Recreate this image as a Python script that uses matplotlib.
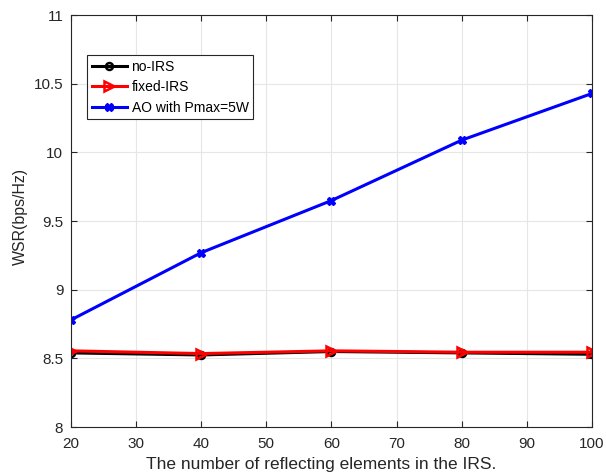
import matplotlib
matplotlib.use("Agg")
import matplotlib.pyplot as plt

plt.rcParams["font.family"] = ["Liberation Sans", "DejaVu Sans"]

# data
n_elements = [20, 40, 60, 80, 100]
wsr_no_irs = [8.540, 8.525, 8.550, 8.540, 8.530]
wsr_fixed_irs = [8.555, 8.535, 8.555, 8.545, 8.545]
wsr_ao = [8.78, 9.27, 9.65, 10.09, 10.43]

text_col = "#262626"

fig = plt.figure(figsize=(6.06, 4.75), dpi=100)
ax = fig.add_axes([0.117, 0.101, 0.860, 0.867])

ax.plot(n_elements, wsr_no_irs, color="black", lw=2.2, marker="o", ms=5,
        mfc="none", mew=1.8, label="no-IRS")
ax.plot(n_elements, wsr_fixed_irs, color="red", lw=2.2, marker=">", ms=6.5,
        mfc="none", mew=1.8, label="fixed-IRS")
ax.plot(n_elements, wsr_ao, color="blue", lw=2.2, marker="X", ms=5.5,
        label="AO with Pmax=5W")

ax.set_xlim(20, 100)
ax.set_ylim(8, 11)
ax.set_xticks(range(20, 101, 10))
ax.set_yticks([8, 8.5, 9, 9.5, 10, 10.5, 11])
ax.set_yticklabels(["8", "8.5", "9", "9.5", "10", "10.5", "11"])
ax.grid(True, color="#e6e6e6", lw=0.8)
ax.set_axisbelow(True)
ax.tick_params(direction="in", top=True, right=True, labelsize=11, length=4,
               colors=text_col, labelcolor=text_col)
ax.tick_params(axis="x", pad=7)
ax.tick_params(axis="y", pad=5.5)
for s in ax.spines.values():
    s.set_color(text_col)
    s.set_linewidth(0.8)

ax.set_xlabel("The number of reflecting elements in the IRS.", fontsize=12.5,
              color=text_col, va="top")
ax.xaxis.set_label_coords(0.48, -0.073)
ax.set_ylabel("WSR(bps/Hz)", fontsize=11.4, color=text_col)
ax.yaxis.set_label_coords(-0.083, 0.512)

leg = ax.legend(loc="upper left", bbox_to_anchor=(0.031, 0.903), borderaxespad=0,
                fontsize=10, fancybox=False, framealpha=1, edgecolor=text_col,
                handlelength=2.5, borderpad=0.35, labelspacing=0.45,
                handletextpad=0.35)
leg.get_frame().set_linewidth(0.8)

fig.savefig("out.png", dpi=100)
